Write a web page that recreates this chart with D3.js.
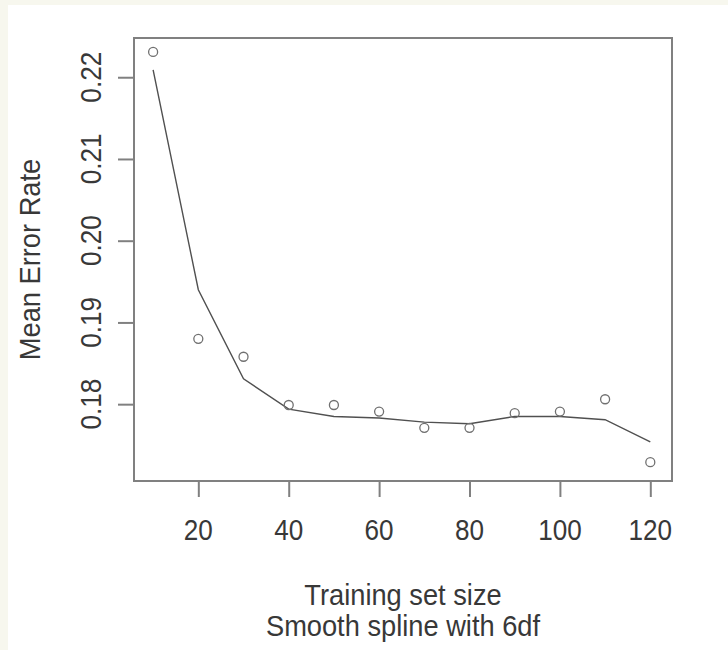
<!DOCTYPE html>
<html>
<head>
<meta charset="utf-8">
<script src="https://cdn.jsdelivr.net/npm/d3@7"></script>
<style>
  body { margin: 0; background: #ffffff; }
  text { font-family: "Liberation Sans", Arial, sans-serif; fill: #383838; }
</style>
</head>
<body>
<div id="chart"></div>
<script>
// training set sizes and the mean error rate
var trainSizes = [10, 20, 30, 40, 50, 60, 70, 80, 90, 100, 110, 120];
var errorRates = [0.2231, 0.1880, 0.1858, 0.1799, 0.1799, 0.1791, 0.1771, 0.1771, 0.1789, 0.1791, 0.1806, 0.1729];

// smooth spline (6df) fitted values at the same sizes
var splineFit = [0.2209, 0.1940, 0.1831, 0.1794, 0.1785, 0.1783, 0.1778, 0.1776, 0.1785, 0.1785, 0.1781, 0.1754];

var xTicks = [20, 40, 60, 80, 100, 120];
var yTicks = [0.18, 0.19, 0.20, 0.21, 0.22];

var xTitle = "Training set size";
var subTitle = "Smooth spline with 6df";
var yTitle = "Mean Error Rate";

function drawChart(divId) {
  var width = 728, height = 650;
  var box = { left: 134, right: 672, top: 38, bottom: 481 };

  var svg = d3.select("#" + divId)
    .append("svg")
    .attr("width", width)
    .attr("height", height);

  // off-white frame on top and left, white panel
  svg.append("rect")
    .attr("width", width).attr("height", height)
    .attr("fill", "#f7f7ee");
  svg.append("rect")
    .attr("x", 8).attr("y", 5)
    .attr("width", width - 8).attr("height", height - 5)
    .attr("fill", "#ffffff");

  var x = d3.scaleLinear().domain([5.77, 124.8]).range([box.left, box.right]);
  var y = d3.scaleLinear().domain([0.1706, 0.2248]).range([box.bottom, box.top]);

  // x axis, ticks only (the box draws the line)
  var xAxis = d3.axisBottom(x).tickValues(xTicks).tickSize(16).tickFormat("");
  var gx = svg.append("g")
    .attr("transform", "translate(0," + box.bottom + ")")
    .call(xAxis);
  gx.select(".domain").remove();
  gx.selectAll(".tick line").attr("stroke", "#808080").attr("stroke-width", 2);

  var yAxis = d3.axisLeft(y).tickValues(yTicks).tickSize(16).tickFormat("");
  var gy = svg.append("g")
    .attr("transform", "translate(" + box.left + ",0)")
    .call(yAxis);
  gy.select(".domain").remove();
  gy.selectAll(".tick line").attr("stroke", "#808080").attr("stroke-width", 2);

  // tick labels (R style, y labels parallel to the axis)
  svg.selectAll(".xlab")
    .data(xTicks)
    .enter()
    .append("text")
    .attr("class", "xlab")
    .attr("text-anchor", "middle")
    .style("font-size", "29px")
    .attr("transform", function (d) { return "translate(" + x(d) + ",540) scale(0.9,1)"; })
    .text(function (d) { return d; });

  svg.selectAll(".ylab")
    .data(yTicks)
    .enter()
    .append("text")
    .attr("class", "ylab")
    .attr("text-anchor", "middle")
    .style("font-size", "29px")
    .attr("transform", function (d) { return "translate(101," + y(d) + ") rotate(-90) scale(0.9,1)"; })
    .text(function (d) { return d3.format(".2f")(d); });

  // titles
  var midX = (box.left + box.right) / 2;
  svg.append("text")
    .attr("text-anchor", "middle")
    .style("font-size", "29px")
    .attr("transform", "translate(" + midX + ",605) scale(0.94,1)")
    .text(xTitle);
  svg.append("text")
    .attr("text-anchor", "middle")
    .style("font-size", "29px")
    .attr("transform", "translate(" + midX + ",636) scale(0.94,1)")
    .text(subTitle);
  svg.append("text")
    .attr("text-anchor", "middle")
    .style("font-size", "29px")
    .attr("transform", "translate(40," + ((box.top + box.bottom) / 2) + ") rotate(-90) scale(0.94,1)")
    .text(yTitle);

  // fitted spline
  var line = d3.line()
    .x(function (d, i) { return x(trainSizes[i]); })
    .y(function (d) { return y(d); });
  svg.append("path")
    .datum(splineFit)
    .attr("d", line)
    .attr("fill", "none")
    .attr("stroke", "#505050")
    .attr("stroke-width", 1.4);

  // observed points
  svg.selectAll(".pt")
    .data(errorRates)
    .enter()
    .append("circle")
    .attr("class", "pt")
    .attr("cx", function (d, i) { return x(trainSizes[i]); })
    .attr("cy", function (d) { return y(d); })
    .attr("r", 4.5)
    .attr("fill", "none")
    .attr("stroke", "#707070")
    .attr("stroke-width", 1.3);

  // plot box
  svg.append("rect")
    .attr("x", box.left).attr("y", box.top)
    .attr("width", box.right - box.left)
    .attr("height", box.bottom - box.top)
    .attr("fill", "none")
    .attr("stroke", "#808080")
    .attr("stroke-width", 2);
}

drawChart("chart");
</script>
</body>
</html>
